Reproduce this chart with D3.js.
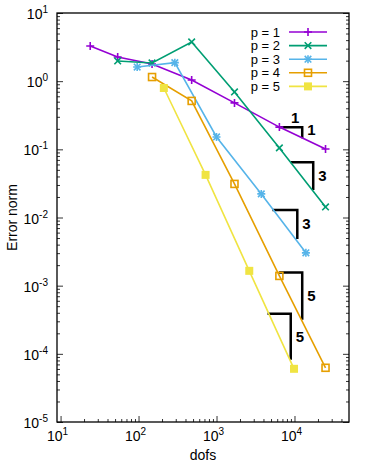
<!DOCTYPE html>
<html>
<head>
<meta charset="utf-8">
<script src="https://cdn.jsdelivr.net/npm/d3@7"></script>
<style>
  body { margin: 0; background: #fff; }
  text { font-family: "Liberation Sans", Arial, sans-serif; }
</style>
</head>
<body>
<div id="viz"></div>
<script>
'use strict';

const width = 374;
const height = 466;

// data
const seriesNames = ["p = 1", "p = 2", "p = 3", "p = 4", "p = 5"];
const dofsP1 = [24, 54, 149, 480, 1700, 6400, 25000];
const errP1 = [3.28, 2.26, 1.79, 1.04, 0.48, 0.212, 0.101];
const dofsP2 = [54, 149, 480, 1700, 6400, 25000];
const errP2 = [1.98, 1.85, 3.76, 0.695, 0.105, 0.0143];
const dofsP3 = [96, 292, 1000, 3750, 14000];
const errP3 = [1.61, 1.87, 0.152, 0.0222, 0.00303];
const dofsP4 = [149, 480, 1700, 6400, 25000];
const errP4 = [1.15, 0.513, 0.0311, 0.00139, 6.24e-5];
const dofsP5 = [211, 724, 2630, 9860];
const errP5 = [0.794, 0.0422, 0.00165, 6.03e-5];

// slope triangles: [x1, x2, yTop, yBottom, label]
const triX1 = [6530, 8950, 5210, 6350, 4510];
const triX2 = [12560, 17380, 10860, 12560, 8950];
const triYTop = [0.211, 0.0647, 0.0129, 0.00156, 3.86e-4];
const triYBot = [0.1455, 0.0254, 0.00485, 3.15e-4, 8.17e-5];
const triLabels = ["1", "3", "3", "5", "5"];

const xExps = [1, 2, 3, 4];
const yExps = [-5, -4, -3, -2, -1, 0, 1];

const colors = ["#9400d3", "#009e73", "#56b4e9", "#e69f00", "#f0e442"];
const markers = ["plus", "cross", "star", "box", "fbox"];

const series = [
    {x: dofsP1, y: errP1},
    {x: dofsP2, y: errP2},
    {x: dofsP3, y: errP3},
    {x: dofsP4, y: errP4},
    {x: dofsP5, y: errP5}
];

const plotL = 57, plotR = 349, plotT = 13, plotB = 422;

const x = d3.scaleLog().domain([9, 50000]).range([plotL, plotR]);
const y = d3.scaleLog().domain([1e-5, 10]).range([plotB, plotT]);

const svg = d3.select("#viz")
    .append("svg")
    .attr("width", width)
    .attr("height", height);

// minor tick values
let xMinor = [];
for (let e = 0; e <= 4; e++) {
    for (let m = 2; m <= 9; m++) {
        let v = m * Math.pow(10, e);
        if (v > 9 && v < 50000) xMinor.push(v);
    }
}
let yMinor = [];
for (let e = -5; e < 1; e++) {
    for (let m = 2; m <= 9; m++) yMinor.push(m * Math.pow(10, e));
}
const xMajor = xExps.map(e => Math.pow(10, e));
const yMajor = yExps.map(e => Math.pow(10, e));

function styleAxis(g) {
    g.select(".domain").remove();
    g.selectAll(".tick line").attr("stroke", "#333").attr("stroke-width", 1);
}

svg.append("g").attr("transform", `translate(0,${plotB})`)
    .call(d3.axisBottom(x).tickValues(xMajor).tickSize(-6).tickFormat(""))
    .call(styleAxis);
svg.append("g").attr("transform", `translate(0,${plotB})`)
    .call(d3.axisBottom(x).tickValues(xMinor).tickSize(-3).tickFormat(""))
    .call(styleAxis);
svg.append("g").attr("transform", `translate(${plotL},0)`)
    .call(d3.axisLeft(y).tickValues(yMajor).tickSize(-6).tickFormat(""))
    .call(styleAxis);
svg.append("g").attr("transform", `translate(${plotL},0)`)
    .call(d3.axisLeft(y).tickValues(yMinor).tickSize(-3).tickFormat(""))
    .call(styleAxis);
svg.append("g").attr("transform", `translate(${plotR},0)`)
    .call(d3.axisRight(y).tickValues(yMajor).tickSize(-6).tickFormat(""))
    .call(styleAxis);
svg.append("g").attr("transform", `translate(${plotR},0)`)
    .call(d3.axisRight(y).tickValues(yMinor).tickSize(-3).tickFormat(""))
    .call(styleAxis);

// frame
svg.append("rect")
    .attr("x", plotL).attr("y", plotT)
    .attr("width", plotR - plotL).attr("height", plotB - plotT)
    .attr("fill", "none").attr("stroke", "#000").attr("stroke-width", 1.3);

// tick labels with superscripts
function powLabel(sel, e) {
    sel.append("tspan").text("10");
    sel.append("tspan").attr("dy", -6).attr("font-size", 10).text(e);
}
xExps.forEach(e => {
    let t = svg.append("text")
        .attr("x", x(Math.pow(10, e)) - 3).attr("y", plotB + 19)
        .attr("font-size", 14).attr("text-anchor", "middle");
    powLabel(t, e);
});
yExps.forEach(e => {
    let t = svg.append("text")
        .attr("x", 48).attr("y", y(Math.pow(10, e)) + 6)
        .attr("font-size", 14).attr("text-anchor", "end");
    powLabel(t, e);
});

svg.append("text")
    .attr("x", (plotL + plotR) / 2).attr("y", 460)
    .attr("font-size", 14).attr("text-anchor", "middle")
    .text("dofs");
svg.append("text")
    .attr("transform", `translate(17,${(plotT + plotB) / 2}) rotate(-90)`)
    .attr("font-size", 14).attr("text-anchor", "middle")
    .text("Error norm");

// slope triangles
const tri = svg.append("g");
triX1.forEach((x1, i) => {
    tri.append("path")
        .attr("d", d3.line()([
            [x(x1), y(triYTop[i])],
            [x(triX2[i]), y(triYTop[i])],
            [x(triX2[i]), y(triYBot[i])]
        ]))
        .attr("fill", "none").attr("stroke", "#000").attr("stroke-width", 2.5);
    let ym = Math.sqrt(triYTop[i] * triYBot[i]);
    tri.append("text")
        .attr("x", x(triX2[i]) + 5).attr("y", y(ym) + (i === 0 ? 2 : 5))
        .attr("font-size", 15).attr("font-weight", "bold")
        .text(triLabels[i]);
    if (i === 0) {
        let xm = Math.sqrt(x1 * triX2[i]);
        tri.append("text")
            .attr("x", x(xm) + 4).attr("y", y(triYTop[i]) - 4)
            .attr("font-size", 15).attr("font-weight", "bold")
            .attr("text-anchor", "middle")
            .text("1");
    }
});

function drawMarker(g, type, cx, cy, color) {
    const s = 4;
    if (type === "plus" || type === "star") {
        g.append("path").attr("d", `M${cx - s},${cy}H${cx + s}M${cx},${cy - s}V${cy + s}`)
            .attr("stroke", color).attr("stroke-width", 1.6);
    }
    if (type === "cross" || type === "star") {
        const d = 3.3;
        g.append("path").attr("d", `M${cx - d},${cy - d}L${cx + d},${cy + d}M${cx - d},${cy + d}L${cx + d},${cy - d}`)
            .attr("stroke", color).attr("stroke-width", 1.6);
    }
    if (type === "box") {
        g.append("rect").attr("x", cx - 3.5).attr("y", cy - 3.5)
            .attr("width", 7).attr("height", 7)
            .attr("fill", "none").attr("stroke", color).attr("stroke-width", 1.6);
    }
    if (type === "fbox") {
        g.append("rect").attr("x", cx - 4).attr("y", cy - 4)
            .attr("width", 8).attr("height", 8)
            .attr("fill", color);
    }
}

const line = d3.line().x(d => x(d[0])).y(d => y(d[1]));

series.forEach((s, i) => {
    let pts = s.x.map((v, k) => [v, s.y[k]]);
    let g = svg.append("g");
    g.append("path")
        .attr("d", line(pts))
        .attr("fill", "none")
        .attr("stroke", colors[i])
        .attr("stroke-width", 1.6);
    pts.forEach(p => drawMarker(g, markers[i], x(p[0]), y(p[1]), colors[i]));
});

// legend
const legend = svg.append("g");
seriesNames.forEach((name, i) => {
    let ly = 32 + i * 13.6;
    legend.append("text")
        .attr("x", 280).attr("y", ly + 4.5)
        .attr("font-size", 13).attr("text-anchor", "end")
        .text(name);
    legend.append("line")
        .attr("x1", 289).attr("x2", 327).attr("y1", ly).attr("y2", ly)
        .attr("stroke", colors[i]).attr("stroke-width", 1.6);
    drawMarker(legend, markers[i], 308, ly, colors[i]);
});
</script>
</body>
</html>
